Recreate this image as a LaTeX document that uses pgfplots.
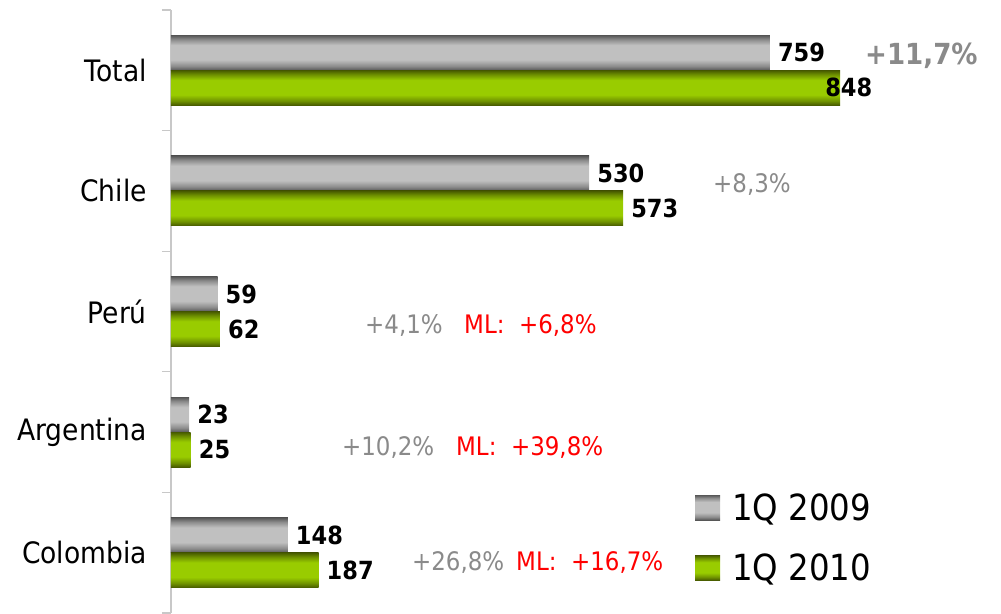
\documentclass[border=0pt]{standalone}
\usepackage{fontspec}
\setmainfont{DejaVu Sans}[FakeStretch=0.9]
\usepackage{pgfplots}
\usepackage{pgfplotstable}
\pgfplotsset{compat=1.18}
\definecolor{gdark}{HTML}{575757}
\definecolor{gmid}{HTML}{8C8C8C}
\definecolor{glight}{HTML}{C0C0C0}
\definecolor{vdark}{HTML}{475A00}
\definecolor{vmid}{HTML}{6E9000}
\definecolor{vlight}{HTML}{99CC00}
\definecolor{anngray}{HTML}{8A8A8A}
\definecolor{axisgray}{HTML}{C8C8C8}
\definecolor{annred}{HTML}{FF0000}
\pgfdeclareverticalshading{graybar}{100bp}{color(0bp)=(gdark); color(25bp)=(gdark); color(31bp)=(gmid); color(40bp)=(glight); color(61bp)=(glight); color(69bp)=(gmid); color(75bp)=(gdark); color(100bp)=(gdark)}
\pgfdeclareverticalshading{greenbar}{100bp}{color(0bp)=(vdark); color(25bp)=(vdark); color(31bp)=(vmid); color(40bp)=(vlight); color(61bp)=(vlight); color(69bp)=(vmid); color(75bp)=(vdark); color(100bp)=(vdark)}

\pgfplotstableread{
cat val dx
0 759 8
1 530 8
2 59 8
3 23 8
4 148 8
}\qa

\pgfplotstableread{
cat val dx
0 848 -15
1 573 8
2 62 8
3 25 8
4 187 8
}\qb

\begin{document}
\begin{tikzpicture}
\useasboundingbox (-171pt,0pt) rectangle (830pt,613pt);
\begin{axis}[
  at={(0pt,0pt)}, anchor=south west,
  scale only axis, width=830pt, height=603pt,
  xbar, bar width=0.29,
  xmin=0, xmax=1052,
  ymin=-0.5, ymax=4.5, y dir=reverse,
  axis x line=none,
  axis y line*=left,
  y axis line style={draw=axisgray, line width=1.2pt},
  xtick=\empty,
  ytick={0,...,4},
  yticklabels={Total,Chile,Perú,Argentina,Colombia},
  major tick length=0pt,
  minor ytick={-0.5,0.5,...,4.5},
  minor tick length=9pt,
  tick align=outside,
  minor tick style={draw=axisgray, line width=1.2pt},
  yticklabel style={font=\fontsize{29.5}{33}\selectfont, anchor=east, inner sep=0pt, xshift=-24pt},
  /pgf/number format/assume math mode=true,
  point meta=x,
  nodes near coords={\pgfmathprintnumber[assume math mode=true]{\pgfplotspointmeta}},
  visualization depends on={\thisrow{dx} \as \dx},
  nodes near coords style={font=\bfseries\fontsize{25}{28}\selectfont, anchor=west, inner sep=0pt, xshift=\dx pt, text=black},
  legend style={at={(axis cs:664,3.875)}, anchor=west, draw=none, fill=none,
    font=\fontsize{36}{40}\selectfont, row sep=32pt, inner sep=0pt,
    nodes={inner sep=0pt}, column sep=12pt},
  legend cell align=left,
  legend image code/.code={\path[#1] (0pt,-12.5pt) rectangle (25pt,12.5pt);},
  clip=false,
]
\pgfplotsinvokeforeach{0,...,4}{
  \addplot[forget plot, shade, shading=graybar, draw=none, bar shift=-0.145,
    restrict y to domain=#1:#1] table[x=val, y=cat] {\qa};
  \addplot[forget plot, shade, shading=greenbar, draw=none, bar shift=0.145,
    restrict y to domain=#1:#1] table[x=val, y=cat] {\qb};
}
\addlegendimage{shade, shading=graybar, draw=none}
\addlegendentry{1Q 2009}
\addlegendimage{shade, shading=greenbar, draw=none}
\addlegendentry{1Q 2010}

\node[anchor=west, inner sep=0pt, text=anngray, font=\bfseries\fontsize{29}{32}\selectfont] at (axis cs:879.6,-0.12) {+11,7\%};
\node[anchor=west, inner sep=0pt, text=anngray, font=\fontsize{25.5}{28}\selectfont] at (axis cs:687,0.943) {+8,3\%};
\node[anchor=west, inner sep=0pt, text=anngray, font=\fontsize{25.5}{28}\selectfont] at (axis cs:245.9,2.12) {+4,1\%};
\node[anchor=west, inner sep=0pt, text=annred, font=\fontsize{25.5}{28}\selectfont] at (axis cs:371.4,2.12) {ML:\ \ +6,8\%};
\node[anchor=west, inner sep=0pt, text=anngray, font=\fontsize{25.5}{28}\selectfont] at (axis cs:216.7,3.124) {+10,2\%};
\node[anchor=west, inner sep=0pt, text=annred, font=\fontsize{25.5}{28}\selectfont] at (axis cs:361.2,3.124) {ML:\ \ +39,8\%};
\node[anchor=west, inner sep=0pt, text=anngray, font=\fontsize{25.5}{28}\selectfont] at (axis cs:305.4,4.085) {+26,8\%};
\node[anchor=west, inner sep=0pt, text=annred, font=\fontsize{25.5}{28}\selectfont] at (axis cs:437.3,4.085) {ML:\ \ +16,7\%};
\end{axis}
\end{tikzpicture}
\end{document}
